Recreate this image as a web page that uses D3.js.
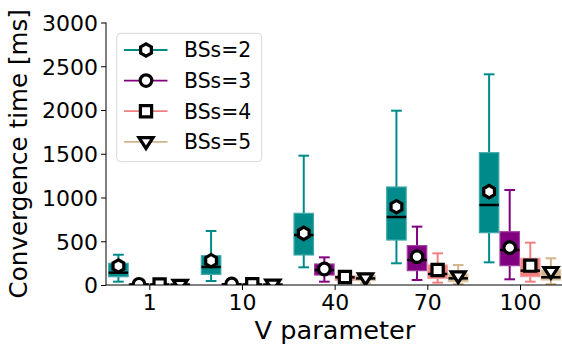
<!DOCTYPE html>
<html>
<head>
<meta charset="utf-8">
<script src="https://cdn.jsdelivr.net/npm/d3@7"></script>
<style>
  body { margin: 0; background: #fff; }
  text { font-family: "DejaVu Sans", sans-serif; fill: #000; }
</style>
</head>
<body>
<svg id="chart" width="562" height="349"></svg>
<script>
let groups = ['1', '10', '40', '70', '100'];
let seriesNames = ['BSs=2', 'BSs=3', 'BSs=4', 'BSs=5'];
let colors = ['#008b8b', '#800080', '#f08080', '#d2b48c'];
let edgeColors = ['#40a8a8', '#a040a0', '#f4a0a0', '#dcc6a8'];
let markers = ['hex', 'circle', 'square', 'triangle'];
let yTicks = [0, 500, 1000, 1500, 2000, 2500, 3000];

// [whiskerLow, q1, median, q3, whiskerHigh, mean] per group
let bss2 = [
  [38, 95, 141, 248, 346, 217],
  [46, 122, 206, 335, 617, 278],
  [202, 343, 571, 819, 1478, 590],
  [248, 514, 777, 1120, 1992, 895],
  [259, 598, 914, 1512, 2408, 1067]
];
let bss3 = [
  [0, 3, 6, 12, 20, 8],
  [0, 4, 8, 14, 25, 12],
  [38, 114, 171, 240, 316, 183],
  [57, 164, 286, 450, 667, 324],
  [65, 221, 400, 609, 1086, 427]
];
let bss4 = [
  [0, 3, 6, 10, 18, 7],
  [0, 3, 6, 11, 20, 8],
  [30, 55, 88, 105, 140, 92],
  [27, 76, 126, 228, 362, 171],
  [38, 95, 164, 305, 484, 221]
];
let bss5 = [
  [0, 2, 5, 9, 16, 6],
  [0, 3, 5, 10, 18, 7],
  [20, 50, 75, 110, 130, 80],
  [10, 38, 76, 126, 228, 103],
  [10, 57, 88, 171, 305, 152]
];
let allSeries = [bss2, bss3, bss4, bss5];

let svg = d3.select('#chart');
let plotLeft = 106, plotRight = 562, plotTop = 22.5, plotBottom = 285;

let x = d3.scalePoint().domain(groups).range([149.3, 520]);
let step = x.step();
let offsets = [-1 / 3, -1 / 9, 1 / 9, 1 / 3].map(o => o * step);
let boxW = step * 0.21;
let capW = boxW * 0.55;

let y = d3.scaleLinear().domain([0, 3000]).range([plotBottom, plotTop]);

svg.append('defs').append('clipPath').attr('id', 'plotclip')
  .append('rect').attr('x', plotLeft).attr('y', 0)
  .attr('width', plotRight - plotLeft).attr('height', plotBottom);

let markerPath = (type, cx, cy) => {
  if (type == 'hex') {
    let r = 6.2;
    let pts = d3.range(6).map(i => {
      let a = Math.PI / 6 + i * Math.PI / 3;
      return [cx + r * Math.cos(a), cy + r * Math.sin(a)];
    });
    return 'M' + pts.map(p => p.join(',')).join('L') + 'Z';
  } else if (type == 'square') {
    let s = 5.6;
    return `M${cx - s},${cy - s}H${cx + s}V${cy + s}H${cx - s}Z`;
  }
  let s = 7;
  return `M${cx - s},${cy - s * 0.6}H${cx + s}L${cx},${cy + s * 0.95}Z`;
};

let drawMarker = (g, type, cx, cy) => {
  if (type == 'circle') {
    g.append('circle').attr('cx', cx).attr('cy', cy).attr('r', 5.8)
      .attr('fill', '#fff').attr('stroke', '#000').attr('stroke-width', 3.2);
  } else {
    g.append('path').attr('d', markerPath(type, cx, cy))
      .attr('fill', '#fff').attr('stroke', '#000').attr('stroke-width', 3.2);
  }
};

let plot = svg.append('g').attr('clip-path', 'url(#plotclip)');

allSeries.forEach((series, s) => {
  series.forEach((d, gi) => {
    let cx = x(groups[gi]) + offsets[s];
    let g = plot.append('g');
    let [lo, q1, med, q3, hi, mean] = d;
    // whiskers
    g.append('line').attr('x1', cx).attr('x2', cx).attr('y1', y(q3)).attr('y2', y(hi))
      .attr('stroke', colors[s]).attr('stroke-width', 2);
    g.append('line').attr('x1', cx).attr('x2', cx).attr('y1', y(q1)).attr('y2', y(lo))
      .attr('stroke', colors[s]).attr('stroke-width', 2);
    [lo, hi].forEach(v => {
      g.append('line').attr('x1', cx - capW / 2).attr('x2', cx + capW / 2)
        .attr('y1', y(v)).attr('y2', y(v))
        .attr('stroke', colors[s]).attr('stroke-width', 2);
    });
    // box
    g.append('rect').attr('x', cx - boxW / 2).attr('y', y(q3))
      .attr('width', boxW).attr('height', Math.max(0.5, y(q1) - y(q3)))
      .attr('fill', colors[s]).attr('stroke', edgeColors[s]).attr('stroke-width', 1.2);
    // median
    g.append('line').attr('x1', cx - boxW / 2).attr('x2', cx + boxW / 2)
      .attr('y1', y(med)).attr('y2', y(med))
      .attr('stroke', '#000').attr('stroke-width', 2.5);
    drawMarker(g, markers[s], cx, y(mean));
  });
});

// axes
let yAxis = d3.axisLeft(y).tickValues(yTicks).tickFormat(d3.format('d')).tickSize(5).tickPadding(3);
let yg = svg.append('g').attr('transform', `translate(${plotLeft},0)`).call(yAxis);
yg.select('.domain').attr('d', `M0,${plotTop}V${plotBottom}`).attr('stroke', '#000');
yg.selectAll('.tick line').attr('stroke', '#000');
yg.selectAll('.tick text').style('font-size', '22px').attr('dy', '0.36em');

let xAxis = d3.axisBottom(x).tickSize(5).tickPadding(4);
let xg = svg.append('g').attr('transform', `translate(0,${plotBottom})`).call(xAxis);
xg.select('.domain').attr('d', `M${plotLeft},0H${plotRight}`).attr('stroke', '#000');
xg.selectAll('.tick line').attr('stroke', '#000');
xg.selectAll('.tick text').style('font-size', '22px');

svg.append('text')
  .attr('transform', `translate(27,${(plotTop + plotBottom) / 2}) rotate(-90)`)
  .attr('text-anchor', 'middle')
  .style('font-size', '24.6px')
  .text('Convergence time [ms]');

svg.append('text')
  .attr('x', (plotLeft + plotRight) / 2 + 1).attr('y', 339)
  .attr('text-anchor', 'middle')
  .style('font-size', '25.6px')
  .text('V parameter');

// legend
let legend = svg.append('g');
legend.append('rect').attr('x', 116.7).attr('y', 33.3).attr('width', 145).attr('height', 128.4)
  .attr('rx', 4).attr('fill', '#fff').attr('fill-opacity', 0.8)
  .attr('stroke', '#d8d8d8').attr('stroke-width', 1);
seriesNames.forEach((name, i) => {
  let ly = 50 + i * 30.6;
  legend.append('line').attr('x1', 124).attr('x2', 167.5).attr('y1', ly).attr('y2', ly)
    .attr('stroke', colors[i]).attr('stroke-width', 1.8);
  drawMarker(legend, markers[i], 146, ly);
  legend.append('text').attr('x', 184).attr('y', ly).attr('dy', '0.36em')
    .style('font-size', '20.4px').text(name);
});
</script>
</body>
</html>
